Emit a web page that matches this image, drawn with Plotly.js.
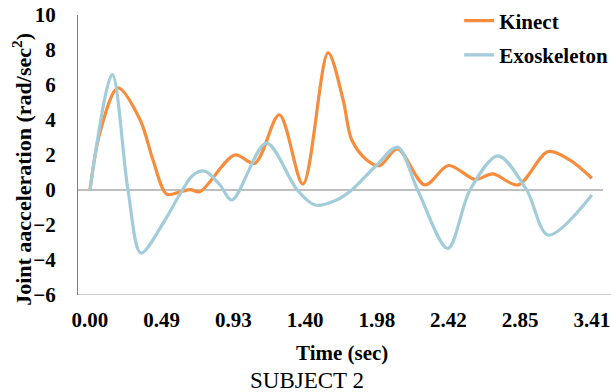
<!DOCTYPE html>
<html>
<head>
<meta charset="utf-8">
<script src="https://cdn.plot.ly/plotly-3.0.1.min.js"></script>
<style>html,body{margin:0;padding:0;background:#fff}#chart{width:611px;height:392px}</style>
</head>
<body>
<div id="chart"></div>
<script>
// category positions (sample index in tick units) and tick labels
const tickPos = [0, 1, 2, 3, 4, 5, 6, 7];
const tickLabels = ["0.00", "0.49", "0.93", "1.40", "1.98", "2.42", "2.85", "3.41"];

// Kinect series
const kinectX = [0, 0.14, 0.39, 0.70, 0.88, 1.07, 1.26, 1.40, 1.53, 2.02, 2.30, 2.64, 2.97, 3.32, 3.53, 3.65, 3.86, 4.04, 4.29, 4.67, 5.00, 5.37, 5.62, 5.97, 6.39, 6.69, 7.00];
const kinectY = [0, 3.3, 5.83, 4.0, 1.7, -0.23, -0.1, 0.02, -0.1, 2.0, 1.53, 4.3, 0.34, 7.83, 5.16, 2.87, 1.72, 1.39, 2.35, 0.29, 1.4, 0.61, 0.92, 0.29, 2.2, 1.72, 0.67];

// Exoskeleton series
const exoX = [0, 0.31, 0.53, 0.71, 1.02, 1.26, 1.44, 1.60, 1.81, 1.98, 2.46, 2.89, 3.14, 3.44, 3.65, 4.00, 4.29, 4.57, 4.99, 5.30, 5.69, 6.09, 6.39, 7.00];
const exoY = [0, 6.6, 0, -3.6, -1.9, -0.2, 0.86, 1.08, 0.3, -0.57, 2.68, 0, -0.86, -0.57, 0, 1.43, 2.45, 0, -3.34, 0, 1.95, 0, -2.58, -0.29];

const serif = "Liberation Serif, Times New Roman, serif";

const traces = [
  {x: kinectX, y: kinectY, name: "Kinect", mode: "lines", legendgroup: "a",
   line: {color: "#F68C3C", width: 3.2, shape: "spline", smoothing: 0.9}},
  {x: exoX, y: exoY, name: "Exoskeleton", mode: "lines", legendgroup: "b",
   line: {color: "#A2CCDA", width: 3.2, shape: "spline", smoothing: 0.9}}
];

const layout = {
  width: 611, height: 392,
  margin: {l: 78, r: 8, t: 15, b: 97, autoexpand: false},
  paper_bgcolor: "#fff", plot_bgcolor: "#fff",
  showlegend: true,
  legend: {x: 0.726, xanchor: "left", y: 1.052, yanchor: "top", tracegroupgap: 4,
           font: {family: serif, size: 21, weight: "bold", color: "#000"}, bgcolor: "rgba(0,0,0,0)"},
  xaxis: {range: [-0.167, 7.155], tickvals: tickPos, ticktext: tickLabels,
          showgrid: false, zeroline: false, showline: false, ticks: "",
          ticklabelstandoff: 10, automargin: false,
          tickfont: {family: serif, size: 21, weight: "bold", color: "#000"}},
  yaxis: {range: [-6, 10], dtick: 2, tick0: 0, showgrid: false,
          zeroline: true, zerolinecolor: "#BFBFBF", zerolinewidth: 2,
          showline: true, linecolor: "#808080", linewidth: 1, ticks: "",
          ticklabelstandoff: 17, automargin: false,
          tickfont: {family: serif, size: 21, weight: "bold", color: "#000"}},
  shapes: [
    {type: "line", xref: "paper", yref: "y", x0: 0, x1: 1.016, y0: -6, y1: -6,
     line: {color: "#C8C8C8", width: 2}}
  ],
  annotations: [
    {text: "Joint aacceleration (rad/sec<sup>2</sup>)", xref: "paper", yref: "paper",
     x: -0.107, y: 0.45, textangle: -90, showarrow: false, xanchor: "center", yanchor: "middle",
     font: {family: serif, size: 22, weight: "bold", color: "#000"}},
    {text: "Time (sec)", xref: "paper", yref: "paper", x: 0.503, y: -0.207,
     showarrow: false, xanchor: "center", yanchor: "middle",
     font: {family: serif, size: 21, weight: "bold", color: "#000"}},
    {text: "SUBJECT 2", xref: "paper", yref: "paper", x: 0.436, y: -0.307,
     showarrow: false, xanchor: "center", yanchor: "middle",
     font: {family: serif, size: 23, color: "#000"}}
  ]
};

Plotly.newPlot("chart", traces, layout, {displayModeBar: false, staticPlot: true});
</script>
</body>
</html>
